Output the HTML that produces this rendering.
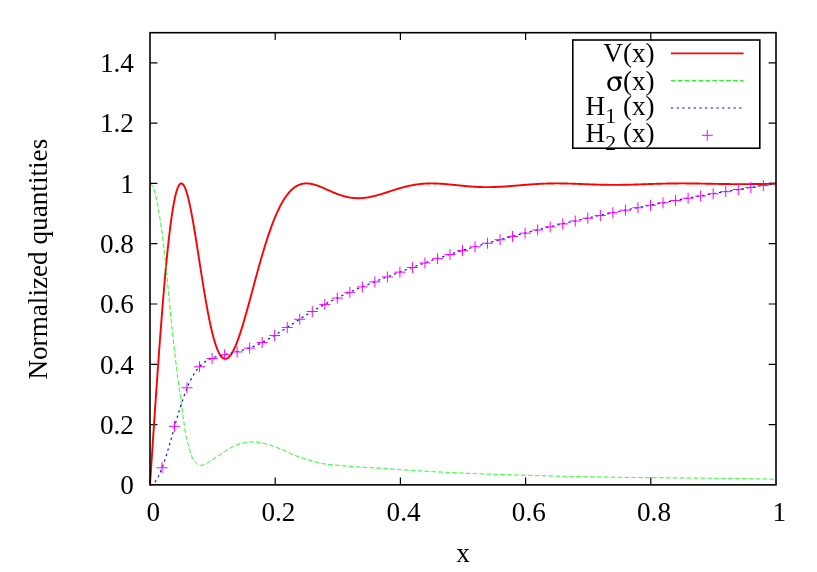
<!DOCTYPE html>
<html><head><meta charset="utf-8"><title>plot</title>
<style>
html,body{margin:0;padding:0;background:#fff;}
svg{display:block;will-change:transform;}
text{font-family:"Liberation Serif",serif;font-size:27.2px;fill:#000;}
</style></head><body>
<svg width="817" height="572" viewBox="0 0 817 572">
<rect x="0" y="0" width="817" height="572" fill="#fff"/>
<g stroke="#000" stroke-width="1.2" fill="none">
<path d="M150.00 424.56H157.40 M776.00 424.56H768.60"/>
<path d="M150.00 364.28H157.40 M776.00 364.28H768.60"/>
<path d="M150.00 303.99H157.40 M776.00 303.99H768.60"/>
<path d="M150.00 243.70H157.40 M776.00 243.70H768.60"/>
<path d="M150.00 183.42H157.40 M776.00 183.42H768.60"/>
<path d="M150.00 123.13H157.40 M776.00 123.13H768.60"/>
<path d="M150.00 62.84H157.40 M776.00 62.84H768.60"/>
<path d="M275.20 484.85V477.45 M275.20 32.70V40.10"/>
<path d="M400.40 484.85V477.45 M400.40 32.70V40.10"/>
<path d="M525.60 484.85V477.45 M525.60 32.70V40.10"/>
<path d="M650.80 484.85V477.45 M650.80 32.70V40.10"/>
</g>
<path d="M150.00 484.85 L150.52 476.96 L151.04 469.07 L151.56 461.20 L152.09 453.33 L152.61 445.49 L153.13 437.66 L153.65 429.87 L154.17 422.11 L154.69 414.38 L155.22 406.70 L155.74 399.07 L156.26 391.49 L156.78 383.97 L157.30 376.52 L157.82 369.13 L158.35 361.82 L158.87 354.59 L159.39 347.45 L159.91 340.40 L160.43 333.44 L160.96 326.58 L161.48 319.84 L162.00 313.20 L162.52 306.69 L163.04 300.29 L163.56 294.03 L164.09 287.89 L164.61 281.90 L165.13 276.05 L165.65 270.35 L166.17 264.80 L166.69 259.40 L167.22 254.17 L167.74 249.10 L168.26 244.20 L168.78 239.47 L169.30 234.92 L169.82 230.55 L170.34 226.36 L170.87 222.36 L171.39 218.54 L171.91 214.92 L172.43 211.49 L172.95 208.25 L173.47 205.21 L174.00 202.37 L174.52 199.73 L175.04 197.28 L175.56 195.04 L176.08 192.99 L176.60 191.15 L177.13 189.51 L177.65 188.06 L178.17 186.82 L178.69 185.77 L179.21 184.92 L179.74 184.26 L180.26 183.79 L180.78 183.51 L181.30 183.42 L181.82 183.51 L182.34 183.78 L182.87 184.23 L183.39 184.85 L183.91 185.64 L184.43 186.60 L184.95 187.72 L185.47 188.99 L186.00 190.41 L186.52 191.99 L187.04 193.70 L187.56 195.55 L188.08 197.53 L188.60 199.63 L189.12 201.86 L189.65 204.20 L190.17 206.64 L190.69 209.19 L191.21 211.84 L191.73 214.57 L192.25 217.39 L192.78 220.28 L193.30 223.25 L193.82 226.28 L194.34 229.37 L194.86 232.52 L195.38 235.71 L195.91 238.94 L196.43 242.21 L196.95 245.51 L197.47 248.83 L197.99 252.17 L198.51 255.52 L199.04 258.88 L199.56 262.24 L200.08 265.60 L200.60 268.94 L201.12 272.28 L201.65 275.59 L202.17 278.89 L202.69 282.15 L203.21 285.38 L203.73 288.58 L204.25 291.73 L204.78 294.85 L205.30 297.91 L205.82 300.92 L206.34 303.88 L206.86 306.78 L207.38 309.62 L207.91 312.40 L208.43 315.11 L208.95 317.75 L209.47 320.32 L209.99 322.82 L210.51 325.24 L211.03 327.58 L211.56 329.85 L212.08 332.03 L212.60 334.13 L213.12 336.15 L213.64 338.09 L214.17 339.94 L214.69 341.71 L215.21 343.39 L215.73 344.98 L216.25 346.48 L216.77 347.90 L217.30 349.23 L217.82 350.47 L218.34 351.63 L218.86 352.69 L219.38 353.67 L219.90 354.56 L220.43 355.37 L220.95 356.09 L221.47 356.73 L221.99 357.28 L222.51 357.74 L223.03 358.13 L223.56 358.43 L224.08 358.65 L224.60 358.80 L225.12 358.86 L225.64 358.85 L226.16 358.76 L226.69 358.59 L227.21 358.36 L227.73 358.05 L228.25 357.67 L228.77 357.22 L229.29 356.70 L229.81 356.11 L230.34 355.47 L230.86 354.76 L231.38 353.98 L231.90 353.15 L232.42 352.26 L232.94 351.31 L233.47 350.31 L233.99 349.25 L234.51 348.14 L235.03 346.98 L235.55 345.78 L236.07 344.52 L236.60 343.22 L237.12 341.88 L237.64 340.50 L238.16 339.07 L238.68 337.61 L239.21 336.11 L239.73 334.58 L240.25 333.01 L240.77 331.41 L241.29 329.78 L241.81 328.11 L242.34 326.43 L242.86 324.71 L243.38 322.98 L243.90 321.21 L244.42 319.43 L244.94 317.63 L245.47 315.81 L245.99 313.97 L246.51 312.12 L247.03 310.25 L247.55 308.37 L248.07 306.48 L248.59 304.58 L249.12 302.67 L249.64 300.75 L250.16 298.82 L250.68 296.89 L251.20 294.96 L251.73 293.02 L252.25 291.08 L252.77 289.14 L253.29 287.20 L253.81 285.27 L254.33 283.33 L254.86 281.40 L255.38 279.47 L255.90 277.55 L256.42 275.64 L256.94 273.73 L257.46 271.83 L257.99 269.94 L258.51 268.06 L259.03 266.19 L259.55 264.33 L260.07 262.49 L260.59 260.66 L261.12 258.84 L261.64 257.03 L262.16 255.24 L262.68 253.47 L263.20 251.71 L263.72 249.97 L264.25 248.25 L264.77 246.55 L265.29 244.86 L265.81 243.20 L266.33 241.55 L266.85 239.92 L267.38 238.32 L267.90 236.73 L268.42 235.17 L268.94 233.62 L269.46 232.10 L269.98 230.61 L270.50 229.13 L271.03 227.68 L271.55 226.25 L272.07 224.84 L272.59 223.46 L273.11 222.10 L273.63 220.77 L274.16 219.46 L274.68 218.17 L275.20 216.91 L275.72 215.67 L276.24 214.46 L276.76 213.27 L277.29 212.11 L277.81 210.97 L278.33 209.86 L278.85 208.78 L279.37 207.71 L279.89 206.68 L280.42 205.66 L280.94 204.68 L281.46 203.72 L281.98 202.78 L282.50 201.87 L283.02 200.98 L283.55 200.12 L284.07 199.28 L284.59 198.46 L285.11 197.67 L285.63 196.91 L286.16 196.17 L286.68 195.45 L287.20 194.75 L287.72 194.08 L288.24 193.44 L288.76 192.81 L289.28 192.21 L289.81 191.63 L290.33 191.08 L290.85 190.54 L291.37 190.03 L291.89 189.54 L292.41 189.07 L292.94 188.62 L293.46 188.20 L293.98 187.79 L294.50 187.40 L295.02 187.04 L295.55 186.69 L296.07 186.36 L296.59 186.06 L297.11 185.77 L297.63 185.50 L298.15 185.24 L298.68 185.01 L299.20 184.79 L299.72 184.59 L300.24 184.41 L300.76 184.25 L301.28 184.10 L301.81 183.96 L302.33 183.84 L302.85 183.74 L303.37 183.65 L303.89 183.58 L304.41 183.52 L304.94 183.47 L305.46 183.44 L305.98 183.42 L306.50 183.42 L307.02 183.42 L307.54 183.44 L308.06 183.47 L308.59 183.51 L309.11 183.56 L309.63 183.63 L310.15 183.70 L310.67 183.78 L311.19 183.88 L311.72 183.98 L312.24 184.09 L312.76 184.21 L313.28 184.34 L313.80 184.48 L314.33 184.62 L314.85 184.77 L315.37 184.93 L315.89 185.09 L316.41 185.26 L316.93 185.44 L317.46 185.62 L317.98 185.81 L318.50 186.00 L319.02 186.20 L319.54 186.40 L320.06 186.61 L320.59 186.82 L321.11 187.03 L321.63 187.25 L322.15 187.47 L322.67 187.69 L323.19 187.91 L323.72 188.14 L324.24 188.37 L324.76 188.60 L325.28 188.83 L325.80 189.06 L326.32 189.30 L326.85 189.53 L327.37 189.76 L327.89 190.00 L328.41 190.23 L328.93 190.47 L329.45 190.70 L329.98 190.93 L330.50 191.16 L331.02 191.39 L331.54 191.62 L332.06 191.85 L332.58 192.07 L333.11 192.30 L333.63 192.52 L334.15 192.73 L334.67 192.95 L335.19 193.16 L335.71 193.37 L336.24 193.58 L336.76 193.78 L337.28 193.99 L337.80 194.18 L338.32 194.38 L338.84 194.57 L339.37 194.75 L339.89 194.93 L340.41 195.11 L340.93 195.28 L341.45 195.45 L341.97 195.62 L342.50 195.78 L343.02 195.93 L343.54 196.09 L344.06 196.23 L344.58 196.37 L345.10 196.51 L345.62 196.64 L346.15 196.77 L346.67 196.89 L347.19 197.00 L347.71 197.12 L348.23 197.22 L348.75 197.32 L349.28 197.42 L349.80 197.51 L350.32 197.59 L350.84 197.67 L351.36 197.74 L351.88 197.81 L352.41 197.87 L352.93 197.93 L353.45 197.98 L353.97 198.03 L354.49 198.07 L355.01 198.11 L355.54 198.14 L356.06 198.16 L356.58 198.18 L357.10 198.19 L357.62 198.20 L358.14 198.21 L358.67 198.20 L359.19 198.20 L359.71 198.19 L360.23 198.17 L360.75 198.15 L361.27 198.12 L361.80 198.09 L362.32 198.05 L362.84 198.01 L363.36 197.96 L363.88 197.91 L364.41 197.86 L364.93 197.79 L365.45 197.73 L365.97 197.66 L366.49 197.59 L367.01 197.51 L367.54 197.43 L368.06 197.34 L368.58 197.25 L369.10 197.16 L369.62 197.06 L370.14 196.96 L370.67 196.85 L371.19 196.74 L371.71 196.63 L372.23 196.52 L372.75 196.40 L373.27 196.28 L373.80 196.15 L374.32 196.02 L374.84 195.89 L375.36 195.76 L375.88 195.62 L376.40 195.48 L376.93 195.34 L377.45 195.20 L377.97 195.05 L378.49 194.90 L379.01 194.75 L379.53 194.60 L380.06 194.45 L380.58 194.29 L381.10 194.13 L381.62 193.97 L382.14 193.81 L382.66 193.65 L383.19 193.49 L383.71 193.32 L384.23 193.16 L384.75 192.99 L385.27 192.83 L385.79 192.66 L386.31 192.49 L386.84 192.32 L387.36 192.15 L387.88 191.98 L388.40 191.81 L388.92 191.64 L389.44 191.47 L389.97 191.30 L390.49 191.13 L391.01 190.96 L391.53 190.80 L392.05 190.63 L392.58 190.46 L393.10 190.29 L393.62 190.12 L394.14 189.96 L394.66 189.79 L395.18 189.63 L395.71 189.47 L396.23 189.30 L396.75 189.14 L397.27 188.98 L397.79 188.82 L398.31 188.67 L398.84 188.51 L399.36 188.36 L399.88 188.20 L400.40 188.05 L400.92 187.91 L401.44 187.76 L401.97 187.61 L402.49 187.47 L403.01 187.33 L403.53 187.19 L404.05 187.05 L404.57 186.91 L405.10 186.78 L405.62 186.65 L406.14 186.52 L406.66 186.40 L407.18 186.27 L407.70 186.15 L408.23 186.03 L408.75 185.91 L409.27 185.80 L409.79 185.69 L410.31 185.58 L410.83 185.47 L411.36 185.37 L411.88 185.27 L412.40 185.17 L412.92 185.07 L413.44 184.98 L413.96 184.89 L414.49 184.80 L415.01 184.71 L415.53 184.63 L416.05 184.55 L416.57 184.48 L417.09 184.40 L417.62 184.33 L418.14 184.26 L418.66 184.19 L419.18 184.13 L419.70 184.07 L420.22 184.01 L420.75 183.96 L421.27 183.91 L421.79 183.86 L422.31 183.81 L422.83 183.77 L423.35 183.73 L423.88 183.69 L424.40 183.65 L424.92 183.62 L425.44 183.59 L425.96 183.56 L426.48 183.53 L427.00 183.51 L427.53 183.49 L428.05 183.47 L428.57 183.46 L429.09 183.45 L429.61 183.43 L430.13 183.43 L430.66 183.42 L431.18 183.42 L431.70 183.42 L432.22 183.42 L432.74 183.42 L433.26 183.43 L433.79 183.43 L434.31 183.44 L434.83 183.46 L435.35 183.47 L435.87 183.49 L436.40 183.50 L436.92 183.52 L437.44 183.54 L437.96 183.57 L438.48 183.59 L439.00 183.62 L439.53 183.65 L440.05 183.68 L440.57 183.71 L441.09 183.74 L441.61 183.77 L442.13 183.81 L442.66 183.85 L443.18 183.89 L443.70 183.93 L444.22 183.97 L444.74 184.01 L445.26 184.05 L445.79 184.09 L446.31 184.14 L446.83 184.19 L447.35 184.23 L447.87 184.28 L448.39 184.33 L448.92 184.38 L449.44 184.43 L449.96 184.48 L450.48 184.53 L451.00 184.58 L451.52 184.63 L452.05 184.69 L452.57 184.74 L453.09 184.79 L453.61 184.85 L454.13 184.90 L454.65 184.95 L455.18 185.01 L455.70 185.06 L456.22 185.12 L456.74 185.17 L457.26 185.23 L457.78 185.28 L458.31 185.33 L458.83 185.39 L459.35 185.44 L459.87 185.50 L460.39 185.55 L460.91 185.60 L461.44 185.65 L461.96 185.71 L462.48 185.76 L463.00 185.81 L463.52 185.86 L464.04 185.91 L464.57 185.96 L465.09 186.01 L465.61 186.06 L466.13 186.10 L466.65 186.15 L467.17 186.19 L467.70 186.24 L468.22 186.28 L468.74 186.33 L469.26 186.37 L469.78 186.41 L470.30 186.45 L470.83 186.49 L471.35 186.53 L471.87 186.57 L472.39 186.60 L472.91 186.64 L473.43 186.67 L473.96 186.70 L474.48 186.74 L475.00 186.77 L475.52 186.80 L476.04 186.82 L476.56 186.85 L477.09 186.88 L477.61 186.90 L478.13 186.93 L478.65 186.95 L479.17 186.97 L479.69 186.99 L480.22 187.01 L480.74 187.02 L481.26 187.04 L481.78 187.05 L482.30 187.07 L482.82 187.08 L483.35 187.09 L483.87 187.10 L484.39 187.11 L484.91 187.11 L485.43 187.12 L485.95 187.12 L486.48 187.13 L487.00 187.13 L487.52 187.13 L488.04 187.13 L488.56 187.13 L489.08 187.12 L489.60 187.12 L490.13 187.11 L490.65 187.10 L491.17 187.10 L491.69 187.09 L492.21 187.07 L492.74 187.06 L493.26 187.05 L493.78 187.03 L494.30 187.02 L494.82 187.00 L495.34 186.98 L495.87 186.96 L496.39 186.94 L496.91 186.92 L497.43 186.90 L497.95 186.88 L498.47 186.85 L499.00 186.83 L499.52 186.80 L500.04 186.77 L500.56 186.75 L501.08 186.72 L501.60 186.69 L502.12 186.66 L502.65 186.63 L503.17 186.59 L503.69 186.56 L504.21 186.53 L504.73 186.49 L505.25 186.46 L505.78 186.42 L506.30 186.38 L506.82 186.35 L507.34 186.31 L507.86 186.27 L508.38 186.23 L508.91 186.19 L509.43 186.15 L509.95 186.11 L510.47 186.07 L510.99 186.03 L511.51 185.98 L512.04 185.94 L512.56 185.90 L513.08 185.86 L513.60 185.81 L514.12 185.77 L514.64 185.73 L515.17 185.68 L515.69 185.64 L516.21 185.59 L516.73 185.55 L517.25 185.51 L517.78 185.46 L518.30 185.42 L518.82 185.37 L519.34 185.33 L519.86 185.28 L520.38 185.24 L520.90 185.20 L521.43 185.15 L521.95 185.11 L522.47 185.06 L522.99 185.02 L523.51 184.98 L524.04 184.93 L524.56 184.89 L525.08 184.85 L525.60 184.81 L526.12 184.76 L526.64 184.72 L527.16 184.68 L527.69 184.64 L528.21 184.60 L528.73 184.56 L529.25 184.52 L529.77 184.48 L530.30 184.44 L530.82 184.40 L531.34 184.37 L531.86 184.33 L532.38 184.29 L532.90 184.26 L533.42 184.22 L533.95 184.19 L534.47 184.15 L534.99 184.12 L535.51 184.09 L536.03 184.06 L536.56 184.03 L537.08 183.99 L537.60 183.96 L538.12 183.94 L538.64 183.91 L539.16 183.88 L539.69 183.85 L540.21 183.83 L540.73 183.80 L541.25 183.78 L541.77 183.75 L542.29 183.73 L542.82 183.71 L543.34 183.69 L543.86 183.67 L544.38 183.65 L544.90 183.63 L545.42 183.61 L545.95 183.59 L546.47 183.58 L546.99 183.56 L547.51 183.54 L548.03 183.53 L548.55 183.52 L549.08 183.50 L549.60 183.49 L550.12 183.48 L550.64 183.47 L551.16 183.46 L551.68 183.46 L552.21 183.45 L552.73 183.44 L553.25 183.44 L553.77 183.43 L554.29 183.43 L554.81 183.42 L555.34 183.42 L555.86 183.42 L556.38 183.42 L556.90 183.42 L557.42 183.42 L557.94 183.42 L558.47 183.42 L558.99 183.42 L559.51 183.43 L560.03 183.43 L560.55 183.43 L561.07 183.44 L561.60 183.45 L562.12 183.45 L562.64 183.46 L563.16 183.47 L563.68 183.48 L564.20 183.49 L564.73 183.50 L565.25 183.51 L565.77 183.52 L566.29 183.53 L566.81 183.54 L567.33 183.55 L567.86 183.57 L568.38 183.58 L568.90 183.59 L569.42 183.61 L569.94 183.62 L570.46 183.64 L570.99 183.65 L571.51 183.67 L572.03 183.69 L572.55 183.70 L573.07 183.72 L573.59 183.74 L574.12 183.76 L574.64 183.77 L575.16 183.79 L575.68 183.81 L576.20 183.83 L576.72 183.85 L577.25 183.87 L577.77 183.89 L578.29 183.91 L578.81 183.93 L579.33 183.95 L579.85 183.97 L580.38 183.99 L580.90 184.01 L581.42 184.03 L581.94 184.05 L582.46 184.07 L582.98 184.09 L583.50 184.11 L584.03 184.13 L584.55 184.15 L585.07 184.17 L585.59 184.19 L586.11 184.21 L586.63 184.23 L587.16 184.25 L587.68 184.27 L588.20 184.29 L588.72 184.31 L589.24 184.33 L589.76 184.35 L590.29 184.37 L590.81 184.39 L591.33 184.41 L591.85 184.43 L592.37 184.45 L592.89 184.46 L593.42 184.48 L593.94 184.50 L594.46 184.52 L594.98 184.53 L595.50 184.55 L596.03 184.57 L596.55 184.58 L597.07 184.60 L597.59 184.61 L598.11 184.63 L598.63 184.64 L599.15 184.66 L599.68 184.67 L600.20 184.68 L600.72 184.70 L601.24 184.71 L601.76 184.72 L602.29 184.73 L602.81 184.74 L603.33 184.75 L603.85 184.76 L604.37 184.77 L604.89 184.78 L605.41 184.79 L605.94 184.80 L606.46 184.81 L606.98 184.81 L607.50 184.82 L608.02 184.83 L608.55 184.83 L609.07 184.84 L609.59 184.84 L610.11 184.85 L610.63 184.85 L611.15 184.86 L611.67 184.86 L612.20 184.86 L612.72 184.86 L613.24 184.86 L613.76 184.87 L614.28 184.87 L614.81 184.87 L615.33 184.86 L615.85 184.86 L616.37 184.86 L616.89 184.86 L617.41 184.86 L617.94 184.85 L618.46 184.85 L618.98 184.85 L619.50 184.84 L620.02 184.84 L620.54 184.83 L621.07 184.83 L621.59 184.82 L622.11 184.81 L622.63 184.81 L623.15 184.80 L623.67 184.79 L624.20 184.78 L624.72 184.77 L625.24 184.76 L625.76 184.75 L626.28 184.74 L626.80 184.73 L627.33 184.72 L627.85 184.71 L628.37 184.70 L628.89 184.69 L629.41 184.67 L629.93 184.66 L630.46 184.65 L630.98 184.64 L631.50 184.62 L632.02 184.61 L632.54 184.59 L633.06 184.58 L633.59 184.57 L634.11 184.55 L634.63 184.54 L635.15 184.52 L635.67 184.50 L636.19 184.49 L636.72 184.47 L637.24 184.46 L637.76 184.44 L638.28 184.42 L638.80 184.41 L639.32 184.39 L639.85 184.37 L640.37 184.36 L640.89 184.34 L641.41 184.32 L641.93 184.30 L642.45 184.29 L642.98 184.27 L643.50 184.25 L644.02 184.23 L644.54 184.22 L645.06 184.20 L645.58 184.18 L646.11 184.16 L646.63 184.14 L647.15 184.13 L647.67 184.11 L648.19 184.09 L648.71 184.07 L649.24 184.06 L649.76 184.04 L650.28 184.02 L650.80 184.00 L651.32 183.99 L651.84 183.97 L652.37 183.95 L652.89 183.94 L653.41 183.92 L653.93 183.90 L654.45 183.89 L654.97 183.87 L655.50 183.85 L656.02 183.84 L656.54 183.82 L657.06 183.81 L657.58 183.79 L658.10 183.78 L658.62 183.76 L659.15 183.75 L659.67 183.73 L660.19 183.72 L660.71 183.71 L661.23 183.69 L661.75 183.68 L662.28 183.67 L662.80 183.65 L663.32 183.64 L663.84 183.63 L664.36 183.62 L664.88 183.61 L665.41 183.60 L665.93 183.58 L666.45 183.57 L666.97 183.56 L667.49 183.55 L668.01 183.54 L668.54 183.53 L669.06 183.53 L669.58 183.52 L670.10 183.51 L670.62 183.50 L671.14 183.49 L671.67 183.49 L672.19 183.48 L672.71 183.47 L673.23 183.47 L673.75 183.46 L674.27 183.46 L674.80 183.45 L675.32 183.45 L675.84 183.44 L676.36 183.44 L676.88 183.43 L677.40 183.43 L677.93 183.43 L678.45 183.43 L678.97 183.42 L679.49 183.42 L680.01 183.42 L680.53 183.42 L681.06 183.42 L681.58 183.42 L682.10 183.42 L682.62 183.42 L683.14 183.42 L683.67 183.42 L684.19 183.42 L684.71 183.42 L685.23 183.42 L685.75 183.42 L686.27 183.43 L686.80 183.43 L687.32 183.43 L687.84 183.44 L688.36 183.44 L688.88 183.44 L689.40 183.45 L689.93 183.45 L690.45 183.46 L690.97 183.46 L691.49 183.47 L692.01 183.47 L692.53 183.48 L693.06 183.48 L693.58 183.49 L694.10 183.50 L694.62 183.50 L695.14 183.51 L695.66 183.52 L696.19 183.53 L696.71 183.53 L697.23 183.54 L697.75 183.55 L698.27 183.56 L698.79 183.56 L699.32 183.57 L699.84 183.58 L700.36 183.59 L700.88 183.60 L701.40 183.61 L701.92 183.62 L702.45 183.63 L702.97 183.64 L703.49 183.64 L704.01 183.65 L704.53 183.66 L705.05 183.67 L705.58 183.68 L706.10 183.69 L706.62 183.70 L707.14 183.71 L707.66 183.72 L708.18 183.73 L708.71 183.74 L709.23 183.75 L709.75 183.76 L710.27 183.77 L710.79 183.78 L711.31 183.79 L711.84 183.80 L712.36 183.81 L712.88 183.82 L713.40 183.83 L713.92 183.84 L714.44 183.85 L714.97 183.86 L715.49 183.87 L716.01 183.88 L716.53 183.89 L717.05 183.90 L717.57 183.90 L718.10 183.91 L718.62 183.92 L719.14 183.93 L719.66 183.94 L720.18 183.95 L720.70 183.96 L721.23 183.96 L721.75 183.97 L722.27 183.98 L722.79 183.99 L723.31 184.00 L723.83 184.00 L724.36 184.01 L724.88 184.02 L725.40 184.02 L725.92 184.03 L726.44 184.04 L726.96 184.04 L727.49 184.05 L728.01 184.06 L728.53 184.06 L729.05 184.07 L729.57 184.07 L730.09 184.08 L730.62 184.08 L731.14 184.09 L731.66 184.09 L732.18 184.09 L732.70 184.10 L733.22 184.10 L733.75 184.10 L734.27 184.11 L734.79 184.11 L735.31 184.11 L735.83 184.12 L736.35 184.12 L736.88 184.12 L737.40 184.12 L737.92 184.12 L738.44 184.12 L738.96 184.12 L739.48 184.13 L740.01 184.13 L740.53 184.13 L741.05 184.13 L741.57 184.13 L742.09 184.13 L742.61 184.12 L743.13 184.12 L743.66 184.12 L744.18 184.12 L744.70 184.12 L745.22 184.12 L745.74 184.11 L746.26 184.11 L746.79 184.11 L747.31 184.11 L747.83 184.10 L748.35 184.10 L748.87 184.10 L749.39 184.09 L749.92 184.09 L750.44 184.09 L750.96 184.08 L751.48 184.08 L752.00 184.07 L752.52 184.07 L753.05 184.06 L753.57 184.06 L754.09 184.05 L754.61 184.04 L755.13 184.04 L755.65 184.03 L756.18 184.03 L756.70 184.02 L757.22 184.01 L757.74 184.01 L758.26 184.00 L758.78 183.99 L759.31 183.99 L759.83 183.98 L760.35 183.97 L760.87 183.96 L761.39 183.96 L761.92 183.95 L762.44 183.94 L762.96 183.93 L763.48 183.92 L764.00 183.92 L764.52 183.91 L765.05 183.90 L765.57 183.89 L766.09 183.88 L766.61 183.87 L767.13 183.87 L767.65 183.86 L768.18 183.85 L768.70 183.84 L769.22 183.83 L769.74 183.82 L770.26 183.81 L770.78 183.81 L771.31 183.80 L771.83 183.79 L772.35 183.78 L772.87 183.77 L773.39 183.76 L773.91 183.75 L774.44 183.74 L774.96 183.74 L775.48 183.73 L776.00 183.72" fill="none" stroke="#ff0000" stroke-width="1.9" stroke-linejoin="round" stroke-linecap="butt"/>
<path d="M150.00 183.42 L150.50 183.77 L150.96 184.16 L151.38 184.56 L151.77 184.99 L152.13 185.44 L152.46 185.91 L152.76 186.40 L153.04 186.90 L153.29 187.42 L153.53 187.95 L153.74 188.50 L153.94 189.05 L154.12 189.61 L154.29 190.18 L154.45 190.75 L154.60 191.33 L154.75 191.90 L154.89 192.48 L155.03 193.06 L155.17 193.64 L155.30 194.22 L155.44 194.79 L155.57 195.37 L155.70 195.94 L155.83 196.52 L155.96 197.09 L156.09 197.66 L156.21 198.24 L156.33 198.81 L156.46 199.38 L156.58 199.95 L156.70 200.52 L156.82 201.09 L156.93 201.66 L157.05 202.23 L157.16 202.80 L157.28 203.37 L157.39 203.94 L157.50 204.51 L157.61 205.08 L157.72 205.65 L157.83 206.22 L157.94 206.79 L158.04 207.35 L158.15 207.92 L158.25 208.49 L158.36 209.06 L158.46 209.64 L158.56 210.21 L158.66 210.78 L158.76 211.35 L158.86 211.92 L158.96 212.49 L159.06 213.07 L159.16 213.64 L159.26 214.21 L159.35 214.79 L159.45 215.36 L159.55 215.94 L159.64 216.51 L159.73 217.08 L159.83 217.66 L159.92 218.24 L160.01 218.81 L160.10 219.39 L160.20 219.96 L160.29 220.54 L160.38 221.12 L160.46 221.69 L160.55 222.27 L160.64 222.85 L160.73 223.43 L160.82 224.00 L160.90 224.58 L160.99 225.16 L161.07 225.74 L161.16 226.32 L161.24 226.90 L161.32 227.48 L161.41 228.06 L161.49 228.63 L161.57 229.21 L161.65 229.79 L161.73 230.37 L161.81 230.95 L161.89 231.53 L161.97 232.11 L162.05 232.69 L162.13 233.27 L162.21 233.85 L162.28 234.43 L162.36 235.02 L162.44 235.60 L162.51 236.18 L162.59 236.76 L162.66 237.34 L162.74 237.92 L162.81 238.50 L162.89 239.08 L162.96 239.66 L163.03 240.24 L163.11 240.82 L163.18 241.40 L163.25 241.98 L163.32 242.56 L163.39 243.14 L163.46 243.73 L163.53 244.31 L163.60 244.89 L163.67 245.47 L163.74 246.05 L163.81 246.63 L163.88 247.21 L163.94 247.79 L164.01 248.37 L164.08 248.95 L164.15 249.53 L164.21 250.11 L164.28 250.69 L164.34 251.27 L164.41 251.85 L164.48 252.44 L164.54 253.02 L164.60 253.60 L164.67 254.18 L164.73 254.76 L164.80 255.34 L164.86 255.92 L164.92 256.50 L164.99 257.08 L165.05 257.66 L165.11 258.24 L165.17 258.82 L165.24 259.40 L165.30 259.98 L165.36 260.56 L165.42 261.14 L165.48 261.73 L165.54 262.31 L165.60 262.89 L165.66 263.47 L165.72 264.05 L165.78 264.63 L165.84 265.21 L165.90 265.79 L165.96 266.37 L166.02 266.95 L166.08 267.53 L166.14 268.11 L166.19 268.69 L166.25 269.27 L166.31 269.85 L166.37 270.44 L166.43 271.02 L166.48 271.60 L166.54 272.18 L166.60 272.76 L166.66 273.34 L166.71 273.92 L166.77 274.50 L166.83 275.08 L166.88 275.66 L166.94 276.24 L167.00 276.82 L167.05 277.40 L167.11 277.98 L167.17 278.57 L167.22 279.15 L167.28 279.73 L167.34 280.31 L167.39 280.89 L167.45 281.47 L167.50 282.05 L167.56 282.63 L167.61 283.21 L167.67 283.79 L167.73 284.37 L167.78 284.95 L167.84 285.54 L167.89 286.12 L167.95 286.70 L168.00 287.28 L168.06 287.86 L168.12 288.44 L168.17 289.02 L168.23 289.60 L168.28 290.18 L168.34 290.76 L168.39 291.34 L168.45 291.93 L168.50 292.51 L168.56 293.09 L168.62 293.67 L168.67 294.25 L168.73 294.83 L168.78 295.41 L168.84 295.99 L168.89 296.57 L168.95 297.15 L169.01 297.74 L169.06 298.32 L169.12 298.90 L169.17 299.48 L169.23 300.06 L169.29 300.64 L169.34 301.22 L169.40 301.80 L169.45 302.38 L169.51 302.96 L169.57 303.55 L169.62 304.13 L169.68 304.71 L169.74 305.29 L169.79 305.87 L169.85 306.45 L169.91 307.03 L169.96 307.61 L170.02 308.19 L170.08 308.78 L170.13 309.36 L170.19 309.94 L170.25 310.52 L170.31 311.10 L170.36 311.68 L170.42 312.26 L170.48 312.84 L170.53 313.42 L170.59 314.01 L170.65 314.59 L170.71 315.17 L170.77 315.75 L170.82 316.33 L170.88 316.91 L170.94 317.49 L171.00 318.07 L171.06 318.65 L171.11 319.24 L171.17 319.82 L171.23 320.40 L171.29 320.98 L171.35 321.56 L171.41 322.14 L171.47 322.72 L171.53 323.30 L171.59 323.88 L171.64 324.46 L171.70 325.05 L171.76 325.63 L171.82 326.21 L171.88 326.79 L171.94 327.37 L172.00 327.95 L172.06 328.53 L172.12 329.11 L172.18 329.69 L172.24 330.27 L172.31 330.85 L172.37 331.44 L172.43 332.02 L172.49 332.60 L172.55 333.18 L172.61 333.76 L172.67 334.34 L172.73 334.92 L172.80 335.50 L172.86 336.08 L172.92 336.66 L172.98 337.24 L173.04 337.82 L173.11 338.40 L173.17 338.99 L173.23 339.57 L173.30 340.15 L173.36 340.73 L173.42 341.31 L173.49 341.89 L173.55 342.47 L173.61 343.05 L173.68 343.63 L173.74 344.21 L173.81 344.79 L173.87 345.37 L173.94 345.95 L174.00 346.53 L174.06 347.11 L174.13 347.69 L174.20 348.27 L174.26 348.85 L174.33 349.43 L174.39 350.01 L174.46 350.59 L174.53 351.17 L174.59 351.75 L174.66 352.34 L174.73 352.92 L174.79 353.50 L174.86 354.08 L174.93 354.66 L174.99 355.24 L175.06 355.82 L175.13 356.40 L175.20 356.98 L175.27 357.56 L175.34 358.14 L175.40 358.72 L175.47 359.30 L175.54 359.88 L175.61 360.46 L175.68 361.03 L175.75 361.61 L175.82 362.19 L175.89 362.77 L175.96 363.35 L176.03 363.93 L176.10 364.51 L176.17 365.09 L176.25 365.67 L176.32 366.25 L176.39 366.83 L176.46 367.41 L176.53 367.99 L176.60 368.57 L176.68 369.15 L176.75 369.73 L176.82 370.31 L176.90 370.89 L176.97 371.47 L177.04 372.05 L177.12 372.63 L177.19 373.20 L177.26 373.78 L177.34 374.36 L177.41 374.94 L177.49 375.52 L177.56 376.10 L177.64 376.68 L177.71 377.26 L177.79 377.84 L177.86 378.42 L177.94 378.99 L178.01 379.57 L178.09 380.15 L178.17 380.73 L178.24 381.31 L178.32 381.89 L178.40 382.47 L178.48 383.05 L178.55 383.63 L178.63 384.20 L178.71 384.78 L178.79 385.36 L178.86 385.94 L178.94 386.52 L179.02 387.10 L179.10 387.67 L179.18 388.25 L179.26 388.83 L179.34 389.41 L179.42 389.99 L179.50 390.57 L179.58 391.14 L179.66 391.72 L179.74 392.30 L179.82 392.88 L179.90 393.46 L179.98 394.04 L180.06 394.61 L180.14 395.19 L180.22 395.77 L180.30 396.35 L180.38 396.93 L180.46 397.51 L180.54 398.08 L180.63 398.66 L180.71 399.24 L180.79 399.82 L180.87 400.40 L180.95 400.97 L181.03 401.55 L181.11 402.13 L181.19 402.71 L181.27 403.29 L181.36 403.87 L181.44 404.44 L181.52 405.02 L181.60 405.60 L181.68 406.18 L181.76 406.76 L181.84 407.33 L181.92 407.91 L182.00 408.49 L182.08 409.07 L182.16 409.65 L182.25 410.23 L182.33 410.81 L182.41 411.38 L182.49 411.96 L182.57 412.54 L182.65 413.12 L182.73 413.70 L182.81 414.28 L182.89 414.85 L182.97 415.43 L183.04 416.01 L183.12 416.59 L183.20 417.17 L183.28 417.75 L183.36 418.33 L183.44 418.91 L183.52 419.49 L183.59 420.06 L183.67 420.64 L183.75 421.22 L183.83 421.80 L183.91 422.38 L183.98 422.96 L184.06 423.54 L184.14 424.12 L184.22 424.70 L184.30 425.28 L184.38 425.85 L184.46 426.43 L184.55 427.01 L184.63 427.59 L184.71 428.17 L184.80 428.74 L184.89 429.32 L184.98 429.90 L185.07 430.48 L185.16 431.05 L185.26 431.63 L185.35 432.20 L185.45 432.78 L185.56 433.35 L185.66 433.93 L185.77 434.50 L185.87 435.08 L185.99 435.65 L186.10 436.22 L186.22 436.79 L186.34 437.37 L186.46 437.94 L186.59 438.51 L186.72 439.08 L186.86 439.65 L186.99 440.22 L187.13 440.78 L187.28 441.35 L187.42 441.92 L187.57 442.48 L187.72 443.05 L187.87 443.62 L188.03 444.18 L188.19 444.74 L188.34 445.31 L188.50 445.87 L188.66 446.43 L188.83 446.99 L188.99 447.55 L189.15 448.11 L189.32 448.67 L189.48 449.23 L189.65 449.79 L189.82 450.35 L189.98 450.91 L190.15 451.46 L190.31 452.02 L190.48 452.57 L190.64 453.13 L190.81 453.68 L190.99 454.23 L191.17 454.78 L191.35 455.33 L191.55 455.88 L191.75 456.42 L191.97 456.96 L192.20 457.50 L192.45 458.03 L192.71 458.56 L192.99 459.08 L193.29 459.60 L193.61 460.12 L193.96 460.63 L194.32 461.13 L194.71 461.63 L195.12 462.11 L195.55 462.57 L196.00 463.00 L196.46 463.41 L196.94 463.80 L197.43 464.14 L197.93 464.45 L198.45 464.72 L198.97 464.94 L199.50 465.11 L200.03 465.23 L200.57 465.29 L201.12 465.30 L201.67 465.25 L202.22 465.16 L202.77 465.02 L203.32 464.85 L203.87 464.64 L204.42 464.40 L204.98 464.13 L205.53 463.85 L206.07 463.54 L206.62 463.22 L207.16 462.90 L207.70 462.57 L208.23 462.24 L208.76 461.91 L209.28 461.58 L209.79 461.26 L210.31 460.94 L210.81 460.62 L211.32 460.31 L211.82 460.00 L212.31 459.69 L212.81 459.38 L213.30 459.07 L213.78 458.76 L214.27 458.45 L214.75 458.14 L215.23 457.83 L215.71 457.52 L216.19 457.21 L216.66 456.90 L217.14 456.59 L217.61 456.27 L218.09 455.96 L218.56 455.64 L219.04 455.32 L219.51 454.99 L219.99 454.66 L220.46 454.34 L220.94 454.01 L221.42 453.67 L221.89 453.34 L222.37 453.01 L222.85 452.68 L223.34 452.35 L223.82 452.02 L224.31 451.69 L224.79 451.36 L225.28 451.04 L225.77 450.71 L226.26 450.39 L226.76 450.08 L227.25 449.76 L227.75 449.45 L228.26 449.14 L228.76 448.84 L229.27 448.54 L229.78 448.25 L230.29 447.96 L230.80 447.68 L231.32 447.41 L231.85 447.14 L232.37 446.87 L232.90 446.62 L233.43 446.37 L233.96 446.12 L234.50 445.89 L235.04 445.65 L235.58 445.43 L236.12 445.21 L236.67 445.00 L237.22 444.79 L237.77 444.59 L238.33 444.40 L238.88 444.22 L239.44 444.04 L240.00 443.86 L240.56 443.70 L241.13 443.54 L241.69 443.39 L242.26 443.25 L242.83 443.11 L243.40 442.98 L243.97 442.86 L244.55 442.74 L245.12 442.63 L245.70 442.53 L246.28 442.44 L246.86 442.35 L247.44 442.27 L248.02 442.20 L248.60 442.14 L249.18 442.08 L249.76 442.04 L250.35 442.00 L250.93 441.97 L251.51 441.94 L252.10 441.93 L252.68 441.93 L253.26 441.93 L253.85 441.94 L254.43 441.96 L255.01 441.99 L255.59 442.03 L256.18 442.07 L256.76 442.12 L257.34 442.18 L257.92 442.25 L258.50 442.33 L259.08 442.41 L259.66 442.50 L260.23 442.59 L260.81 442.69 L261.39 442.80 L261.96 442.91 L262.54 443.03 L263.11 443.15 L263.68 443.28 L264.26 443.42 L264.83 443.56 L265.40 443.71 L265.97 443.86 L266.54 444.01 L267.10 444.17 L267.67 444.33 L268.24 444.50 L268.80 444.67 L269.36 444.85 L269.92 445.02 L270.48 445.20 L271.04 445.39 L271.60 445.58 L272.16 445.77 L272.71 445.96 L273.26 446.15 L273.82 446.35 L274.37 446.55 L274.92 446.75 L275.46 446.96 L276.01 447.16 L276.56 447.37 L277.10 447.58 L277.65 447.80 L278.19 448.01 L278.73 448.23 L279.27 448.45 L279.81 448.67 L280.35 448.89 L280.89 449.12 L281.42 449.35 L281.96 449.57 L282.49 449.81 L283.03 450.04 L283.56 450.27 L284.10 450.51 L284.63 450.75 L285.16 450.99 L285.70 451.23 L286.23 451.47 L286.76 451.71 L287.29 451.95 L287.82 452.20 L288.35 452.44 L288.88 452.68 L289.42 452.93 L289.95 453.17 L290.48 453.41 L291.01 453.65 L291.55 453.89 L292.08 454.12 L292.62 454.36 L293.15 454.59 L293.69 454.82 L294.23 455.05 L294.77 455.27 L295.31 455.49 L295.85 455.71 L296.39 455.92 L296.93 456.13 L297.48 456.33 L298.03 456.53 L298.58 456.73 L299.13 456.92 L299.68 457.11 L300.23 457.30 L300.79 457.48 L301.34 457.66 L301.90 457.84 L302.45 458.02 L303.01 458.19 L303.57 458.37 L304.13 458.54 L304.68 458.71 L305.24 458.88 L305.80 459.05 L306.36 459.21 L306.92 459.38 L307.49 459.55 L308.05 459.72 L308.61 459.88 L309.17 460.05 L309.73 460.22 L310.29 460.39 L310.85 460.56 L311.41 460.73 L311.97 460.90 L312.53 461.07 L313.09 461.24 L313.65 461.41 L314.21 461.57 L314.77 461.74 L315.33 461.90 L315.90 462.06 L316.46 462.21 L317.02 462.36 L317.59 462.51 L318.15 462.66 L318.72 462.80 L319.28 462.93 L319.85 463.06 L320.42 463.19 L320.99 463.31 L321.56 463.42 L322.14 463.53 L322.71 463.63 L323.28 463.73 L323.86 463.82 L324.44 463.90 L325.01 463.99 L325.59 464.06 L326.17 464.14 L326.75 464.21 L327.33 464.28 L327.91 464.34 L328.49 464.40 L329.08 464.46 L329.66 464.52 L330.24 464.58 L330.82 464.63 L331.41 464.69 L331.99 464.74 L332.57 464.80 L333.15 464.85 L333.74 464.91 L334.32 464.96 L334.90 465.02 L335.48 465.08 L336.06 465.13 L336.65 465.19 L337.23 465.25 L337.81 465.31 L338.39 465.37 L338.97 465.43 L339.55 465.48 L340.13 465.54 L340.71 465.60 L341.29 465.66 L341.87 465.72 L342.46 465.77 L343.04 465.83 L343.62 465.89 L344.20 465.94 L344.78 466.00 L345.36 466.05 L345.94 466.11 L346.52 466.16 L347.10 466.21 L347.68 466.26 L348.27 466.31 L348.85 466.36 L349.43 466.40 L350.01 466.45 L350.59 466.49 L351.18 466.53 L351.76 466.57 L352.34 466.61 L352.92 466.65 L353.50 466.69 L354.09 466.73 L354.67 466.77 L355.25 466.80 L355.84 466.84 L356.42 466.87 L357.00 466.91 L357.58 466.94 L358.17 466.97 L358.75 467.00 L359.33 467.03 L359.92 467.07 L360.50 467.10 L361.08 467.13 L361.67 467.16 L362.25 467.19 L362.83 467.22 L363.42 467.25 L364.00 467.28 L364.58 467.31 L365.17 467.34 L365.75 467.37 L366.33 467.40 L366.92 467.43 L367.50 467.46 L368.08 467.49 L368.67 467.52 L369.25 467.55 L369.83 467.58 L370.42 467.61 L371.00 467.64 L371.58 467.68 L372.17 467.71 L372.75 467.74 L373.33 467.78 L373.92 467.81 L374.50 467.85 L375.08 467.88 L375.66 467.92 L376.25 467.96 L376.83 467.99 L377.41 468.03 L377.99 468.07 L378.58 468.11 L379.16 468.14 L379.74 468.18 L380.33 468.22 L380.91 468.26 L381.49 468.30 L382.07 468.34 L382.66 468.38 L383.24 468.42 L383.82 468.46 L384.40 468.50 L384.99 468.54 L385.57 468.58 L386.15 468.62 L386.73 468.66 L387.32 468.70 L387.90 468.74 L388.48 468.79 L389.06 468.83 L389.65 468.87 L390.23 468.91 L390.81 468.95 L391.39 468.99 L391.98 469.03 L392.56 469.08 L393.14 469.12 L393.72 469.16 L394.30 469.20 L394.89 469.24 L395.47 469.28 L396.05 469.32 L396.63 469.36 L397.22 469.41 L397.80 469.45 L398.38 469.49 L398.96 469.53 L399.55 469.57 L400.13 469.61 L400.71 469.65 L401.29 469.69 L401.88 469.73 L402.46 469.77 L403.04 469.81 L403.62 469.85 L404.21 469.89 L404.79 469.92 L405.37 469.96 L405.95 470.00 L406.54 470.04 L407.12 470.08 L407.70 470.12 L408.29 470.15 L408.87 470.19 L409.45 470.23 L410.03 470.27 L410.62 470.30 L411.20 470.34 L411.78 470.38 L412.36 470.41 L412.95 470.45 L413.53 470.49 L414.11 470.52 L414.70 470.56 L415.28 470.60 L415.86 470.63 L416.44 470.67 L417.03 470.70 L417.61 470.74 L418.19 470.77 L418.78 470.81 L419.36 470.84 L419.94 470.88 L420.52 470.91 L421.11 470.95 L421.69 470.98 L422.27 471.02 L422.86 471.05 L423.44 471.09 L424.02 471.12 L424.60 471.16 L425.19 471.19 L425.77 471.22 L426.35 471.26 L426.94 471.29 L427.52 471.32 L428.10 471.36 L428.69 471.39 L429.27 471.42 L429.85 471.46 L430.43 471.49 L431.02 471.52 L431.60 471.55 L432.18 471.59 L432.77 471.62 L433.35 471.65 L433.93 471.68 L434.52 471.71 L435.10 471.75 L435.68 471.78 L436.26 471.81 L436.85 471.84 L437.43 471.87 L438.01 471.90 L438.60 471.93 L439.18 471.96 L439.76 471.99 L440.35 472.02 L440.93 472.05 L441.51 472.08 L442.10 472.11 L442.68 472.14 L443.26 472.17 L443.85 472.20 L444.43 472.23 L445.01 472.26 L445.60 472.29 L446.18 472.32 L446.76 472.35 L447.34 472.38 L447.93 472.40 L448.51 472.43 L449.09 472.46 L449.68 472.49 L450.26 472.52 L450.84 472.54 L451.43 472.57 L452.01 472.60 L452.59 472.62 L453.18 472.65 L453.76 472.68 L454.34 472.70 L454.93 472.73 L455.51 472.76 L456.09 472.78 L456.68 472.81 L457.26 472.84 L457.84 472.86 L458.43 472.89 L459.01 472.91 L459.59 472.94 L460.18 472.96 L460.76 472.99 L461.34 473.01 L461.93 473.04 L462.51 473.06 L463.09 473.09 L463.68 473.11 L464.26 473.14 L464.84 473.16 L465.43 473.19 L466.01 473.21 L466.59 473.24 L467.18 473.26 L467.76 473.28 L468.35 473.31 L468.93 473.33 L469.51 473.35 L470.10 473.38 L470.68 473.40 L471.26 473.42 L471.85 473.45 L472.43 473.47 L473.01 473.49 L473.60 473.52 L474.18 473.54 L474.76 473.56 L475.35 473.58 L475.93 473.61 L476.51 473.63 L477.10 473.65 L477.68 473.67 L478.26 473.70 L478.85 473.72 L479.43 473.74 L480.01 473.76 L480.60 473.78 L481.18 473.80 L481.77 473.83 L482.35 473.85 L482.93 473.87 L483.52 473.89 L484.10 473.91 L484.68 473.93 L485.27 473.95 L485.85 473.98 L486.43 474.00 L487.02 474.02 L487.60 474.04 L488.18 474.06 L488.77 474.08 L489.35 474.10 L489.93 474.12 L490.52 474.14 L491.10 474.16 L491.69 474.18 L492.27 474.20 L492.85 474.22 L493.44 474.24 L494.02 474.26 L494.60 474.28 L495.19 474.30 L495.77 474.32 L496.35 474.34 L496.94 474.36 L497.52 474.38 L498.10 474.40 L498.69 474.42 L499.27 474.44 L499.86 474.46 L500.44 474.48 L501.02 474.50 L501.61 474.52 L502.19 474.54 L502.77 474.56 L503.36 474.58 L503.94 474.59 L504.52 474.61 L505.11 474.63 L505.69 474.65 L506.28 474.67 L506.86 474.69 L507.44 474.71 L508.03 474.73 L508.61 474.74 L509.19 474.76 L509.78 474.78 L510.36 474.80 L510.94 474.82 L511.53 474.84 L512.11 474.86 L512.69 474.87 L513.28 474.89 L513.86 474.91 L514.45 474.93 L515.03 474.95 L515.61 474.96 L516.20 474.98 L516.78 475.00 L517.36 475.02 L517.95 475.04 L518.53 475.05 L519.12 475.07 L519.70 475.09 L520.28 475.11 L520.87 475.12 L521.45 475.14 L522.03 475.16 L522.62 475.18 L523.20 475.19 L523.78 475.21 L524.37 475.23 L524.95 475.25 L525.54 475.26 L526.12 475.28 L526.70 475.30 L527.29 475.31 L527.87 475.33 L528.45 475.35 L529.04 475.37 L529.62 475.38 L530.20 475.40 L530.79 475.42 L531.37 475.43 L531.96 475.45 L532.54 475.47 L533.12 475.48 L533.71 475.50 L534.29 475.52 L534.87 475.53 L535.46 475.55 L536.04 475.57 L536.63 475.58 L537.21 475.60 L537.79 475.62 L538.38 475.63 L538.96 475.65 L539.54 475.66 L540.13 475.68 L540.71 475.70 L541.29 475.71 L541.88 475.73 L542.46 475.75 L543.05 475.76 L543.63 475.78 L544.21 475.79 L544.80 475.81 L545.38 475.82 L545.96 475.84 L546.55 475.86 L547.13 475.87 L547.72 475.89 L548.30 475.90 L548.88 475.92 L549.47 475.93 L550.05 475.95 L550.63 475.96 L551.22 475.98 L551.80 475.99 L552.39 476.01 L552.97 476.02 L553.55 476.04 L554.14 476.05 L554.72 476.07 L555.30 476.08 L555.89 476.10 L556.47 476.11 L557.06 476.13 L557.64 476.14 L558.22 476.16 L558.81 476.17 L559.39 476.19 L559.97 476.20 L560.56 476.21 L561.14 476.23 L561.72 476.24 L562.31 476.26 L562.89 476.27 L563.48 476.28 L564.06 476.30 L564.64 476.31 L565.23 476.33 L565.81 476.34 L566.39 476.35 L566.98 476.37 L567.56 476.38 L568.15 476.39 L568.73 476.41 L569.31 476.42 L569.90 476.43 L570.48 476.45 L571.07 476.46 L571.65 476.47 L572.23 476.49 L572.82 476.50 L573.40 476.51 L573.98 476.52 L574.57 476.54 L575.15 476.55 L575.74 476.56 L576.32 476.57 L576.90 476.59 L577.49 476.60 L578.07 476.61 L578.65 476.62 L579.24 476.63 L579.82 476.65 L580.41 476.66 L580.99 476.67 L581.57 476.68 L582.16 476.69 L582.74 476.70 L583.32 476.72 L583.91 476.73 L584.49 476.74 L585.08 476.75 L585.66 476.76 L586.24 476.77 L586.83 476.78 L587.41 476.79 L587.99 476.80 L588.58 476.82 L589.16 476.83 L589.75 476.84 L590.33 476.85 L590.91 476.86 L591.50 476.87 L592.08 476.88 L592.67 476.89 L593.25 476.90 L593.83 476.91 L594.42 476.92 L595.00 476.93 L595.58 476.94 L596.17 476.95 L596.75 476.96 L597.34 476.97 L597.92 476.98 L598.50 476.99 L599.09 477.00 L599.67 477.01 L600.26 477.02 L600.84 477.03 L601.42 477.03 L602.01 477.04 L602.59 477.05 L603.17 477.06 L603.76 477.07 L604.34 477.08 L604.93 477.09 L605.51 477.10 L606.09 477.11 L606.68 477.12 L607.26 477.12 L607.85 477.13 L608.43 477.14 L609.01 477.15 L609.60 477.16 L610.18 477.17 L610.76 477.17 L611.35 477.18 L611.93 477.19 L612.52 477.20 L613.10 477.21 L613.68 477.22 L614.27 477.22 L614.85 477.23 L615.44 477.24 L616.02 477.25 L616.60 477.26 L617.19 477.26 L617.77 477.27 L618.35 477.28 L618.94 477.29 L619.52 477.29 L620.11 477.30 L620.69 477.31 L621.27 477.32 L621.86 477.32 L622.44 477.33 L623.03 477.34 L623.61 477.35 L624.19 477.35 L624.78 477.36 L625.36 477.37 L625.95 477.37 L626.53 477.38 L627.11 477.39 L627.70 477.40 L628.28 477.40 L628.86 477.41 L629.45 477.42 L630.03 477.42 L630.62 477.43 L631.20 477.44 L631.78 477.44 L632.37 477.45 L632.95 477.46 L633.54 477.46 L634.12 477.47 L634.70 477.48 L635.29 477.48 L635.87 477.49 L636.45 477.50 L637.04 477.50 L637.62 477.51 L638.21 477.52 L638.79 477.52 L639.37 477.53 L639.96 477.53 L640.54 477.54 L641.13 477.55 L641.71 477.55 L642.29 477.56 L642.88 477.56 L643.46 477.57 L644.05 477.58 L644.63 477.58 L645.21 477.59 L645.80 477.60 L646.38 477.60 L646.97 477.61 L647.55 477.61 L648.13 477.62 L648.72 477.62 L649.30 477.63 L649.88 477.64 L650.47 477.64 L651.05 477.65 L651.64 477.65 L652.22 477.66 L652.80 477.67 L653.39 477.67 L653.97 477.68 L654.56 477.68 L655.14 477.69 L655.72 477.69 L656.31 477.70 L656.89 477.71 L657.48 477.71 L658.06 477.72 L658.64 477.72 L659.23 477.73 L659.81 477.73 L660.39 477.74 L660.98 477.74 L661.56 477.75 L662.15 477.76 L662.73 477.76 L663.31 477.77 L663.90 477.77 L664.48 477.78 L665.07 477.78 L665.65 477.79 L666.23 477.79 L666.82 477.80 L667.40 477.80 L667.99 477.81 L668.57 477.82 L669.15 477.82 L669.74 477.83 L670.32 477.83 L670.91 477.84 L671.49 477.84 L672.07 477.85 L672.66 477.85 L673.24 477.86 L673.82 477.86 L674.41 477.87 L674.99 477.88 L675.58 477.88 L676.16 477.89 L676.74 477.89 L677.33 477.90 L677.91 477.90 L678.50 477.91 L679.08 477.91 L679.66 477.92 L680.25 477.92 L680.83 477.93 L681.42 477.93 L682.00 477.94 L682.58 477.95 L683.17 477.95 L683.75 477.96 L684.34 477.96 L684.92 477.97 L685.50 477.97 L686.09 477.98 L686.67 477.98 L687.25 477.99 L687.84 477.99 L688.42 478.00 L689.01 478.01 L689.59 478.01 L690.17 478.02 L690.76 478.02 L691.34 478.03 L691.93 478.03 L692.51 478.04 L693.09 478.05 L693.68 478.05 L694.26 478.06 L694.85 478.06 L695.43 478.07 L696.01 478.07 L696.60 478.08 L697.18 478.09 L697.76 478.09 L698.35 478.10 L698.93 478.10 L699.52 478.11 L700.10 478.11 L700.68 478.12 L701.27 478.13 L701.85 478.13 L702.44 478.14 L703.02 478.14 L703.60 478.15 L704.19 478.16 L704.77 478.16 L705.36 478.17 L705.94 478.17 L706.52 478.18 L707.11 478.19 L707.69 478.19 L708.27 478.20 L708.86 478.21 L709.44 478.21 L710.03 478.22 L710.61 478.22 L711.19 478.23 L711.78 478.24 L712.36 478.24 L712.95 478.25 L713.53 478.26 L714.11 478.26 L714.70 478.27 L715.28 478.28 L715.87 478.28 L716.45 478.29 L717.03 478.30 L717.62 478.30 L718.20 478.31 L718.78 478.32 L719.37 478.32 L719.95 478.33 L720.54 478.34 L721.12 478.34 L721.70 478.35 L722.29 478.36 L722.87 478.37 L723.46 478.37 L724.04 478.38 L724.62 478.39 L725.21 478.39 L725.79 478.40 L726.38 478.41 L726.96 478.42 L727.54 478.42 L728.13 478.43 L728.71 478.44 L729.29 478.45 L729.88 478.45 L730.46 478.46 L731.05 478.47 L731.63 478.48 L732.21 478.48 L732.80 478.49 L733.38 478.50 L733.97 478.51 L734.55 478.52 L735.13 478.52 L735.72 478.53 L736.30 478.54 L736.88 478.55 L737.47 478.56 L738.05 478.57 L738.64 478.57 L739.22 478.58 L739.80 478.59 L740.39 478.60 L740.97 478.61 L741.56 478.62 L742.14 478.63 L742.72 478.63 L743.31 478.64 L743.89 478.65 L744.47 478.66 L745.06 478.67 L745.64 478.68 L746.23 478.69 L746.81 478.70 L747.39 478.71 L747.98 478.72 L748.56 478.72 L749.15 478.73 L749.73 478.74 L750.31 478.75 L750.90 478.76 L751.48 478.77 L752.06 478.78 L752.65 478.79 L753.23 478.80 L753.82 478.81 L754.40 478.82 L754.98 478.83 L755.57 478.84 L756.15 478.85 L756.73 478.86 L757.32 478.87 L757.90 478.88 L758.49 478.89 L759.07 478.90 L759.65 478.91 L760.24 478.93 L760.82 478.94 L761.41 478.95 L761.99 478.96 L762.57 478.97 L763.16 478.98 L763.74 478.99 L764.32 479.00 L764.91 479.01 L765.49 479.03 L766.08 479.04 L766.66 479.05 L767.24 479.06 L767.83 479.07 L768.41 479.08 L768.99 479.09 L769.58 479.11 L770.16 479.12 L770.75 479.13 L771.33 479.14 L771.91 479.16 L772.50 479.17 L773.08 479.18 L773.66 479.19 L774.25 479.21 L774.83 479.22 L775.42 479.23 L776.00 479.24" fill="none" stroke="#00ff00" stroke-width="1.0" stroke-dasharray="4.6 2.3"/>
<path d="M150.00 484.85 L150.52 484.82 L151.04 484.72 L151.56 484.55 L152.09 484.32 L152.61 484.02 L153.13 483.65 L153.65 483.22 L154.17 482.73 L154.69 482.17 L155.22 481.55 L155.74 480.86 L156.26 480.12 L156.78 479.31 L157.30 478.44 L157.82 477.52 L158.35 476.53 L158.87 475.49 L159.39 474.40 L159.91 473.25 L160.43 472.05 L160.96 470.79 L161.48 469.49 L162.00 468.15 L162.52 466.75 L163.04 465.31 L163.56 463.84 L164.09 462.32 L164.61 460.76 L165.13 459.17 L165.65 457.54 L166.17 455.89 L166.69 454.20 L167.22 452.49 L167.74 450.75 L168.26 448.99 L168.78 447.21 L169.30 445.41 L169.82 443.60 L170.34 441.77 L170.87 439.93 L171.39 438.08 L171.91 436.23 L172.43 434.37 L172.95 432.51 L173.47 430.65 L174.00 428.79 L174.52 426.94 L175.04 425.09 L175.56 423.25 L176.08 421.42 L176.60 419.60 L177.13 417.80 L177.65 416.01 L178.17 414.24 L178.69 412.49 L179.21 410.76 L179.74 409.05 L180.26 407.37 L180.78 405.71 L181.30 404.07 L181.82 402.47 L182.34 400.89 L182.87 399.34 L183.39 397.82 L183.91 396.33 L184.43 394.87 L184.95 393.44 L185.47 392.05 L186.00 390.69 L186.52 389.36 L187.04 388.07 L187.56 386.80 L188.08 385.58 L188.60 384.38 L189.12 383.22 L189.65 382.10 L190.17 381.01 L190.69 379.95 L191.21 378.92 L191.73 377.93 L192.25 376.97 L192.78 376.04 L193.30 375.14 L193.82 374.27 L194.34 373.43 L194.86 372.63 L195.38 371.85 L195.91 371.10 L196.43 370.38 L196.95 369.68 L197.47 369.02 L197.99 368.37 L198.51 367.76 L199.04 367.16 L199.56 366.59 L200.08 366.05 L200.60 365.52 L201.12 365.02 L201.65 364.53 L202.17 364.07 L202.69 363.62 L203.21 363.20 L203.73 362.79 L204.25 362.40 L204.78 362.02 L205.30 361.66 L205.82 361.32 L206.34 360.98 L206.86 360.67 L207.38 360.36 L207.91 360.07 L208.43 359.79 L208.95 359.52 L209.47 359.26 L209.99 359.01 L210.51 358.77 L211.03 358.54 L211.56 358.32 L212.08 358.10 L212.60 357.90 L213.12 357.70 L213.64 357.51 L214.17 357.32 L214.69 357.14 L215.21 356.97 L215.73 356.80 L216.25 356.63 L216.77 356.47 L217.30 356.32 L217.82 356.17 L218.34 356.02 L218.86 355.88 L219.38 355.74 L219.90 355.60 L220.43 355.47 L220.95 355.34 L221.47 355.21 L221.99 355.08 L222.51 354.95 L223.03 354.83 L223.56 354.71 L224.08 354.59 L224.60 354.47 L225.12 354.35 L225.64 354.23 L226.16 354.12 L226.69 354.00 L227.21 353.88 L227.73 353.77 L228.25 353.65 L228.77 353.54 L229.29 353.42 L229.81 353.31 L230.34 353.19 L230.86 353.07 L231.38 352.96 L231.90 352.84 L232.42 352.72 L232.94 352.60 L233.47 352.48 L233.99 352.36 L234.51 352.23 L235.03 352.11 L235.55 351.99 L236.07 351.86 L236.60 351.73 L237.12 351.60 L237.64 351.47 L238.16 351.33 L238.68 351.20 L239.21 351.06 L239.73 350.92 L240.25 350.78 L240.77 350.64 L241.29 350.49 L241.81 350.34 L242.34 350.19 L242.86 350.04 L243.38 349.88 L243.90 349.73 L244.42 349.56 L244.94 349.40 L245.47 349.24 L245.99 349.07 L246.51 348.90 L247.03 348.72 L247.55 348.55 L248.07 348.37 L248.59 348.18 L249.12 348.00 L249.64 347.81 L250.16 347.62 L250.68 347.42 L251.20 347.23 L251.73 347.03 L252.25 346.82 L252.77 346.62 L253.29 346.41 L253.81 346.19 L254.33 345.98 L254.86 345.76 L255.38 345.54 L255.90 345.31 L256.42 345.08 L256.94 344.85 L257.46 344.62 L257.99 344.38 L258.51 344.14 L259.03 343.90 L259.55 343.65 L260.07 343.40 L260.59 343.15 L261.12 342.89 L261.64 342.64 L262.16 342.37 L262.68 342.11 L263.20 341.84 L263.72 341.57 L264.25 341.30 L264.77 341.03 L265.29 340.75 L265.81 340.47 L266.33 340.19 L266.85 339.90 L267.38 339.61 L267.90 339.32 L268.42 339.03 L268.94 338.74 L269.46 338.44 L269.98 338.14 L270.50 337.84 L271.03 337.53 L271.55 337.23 L272.07 336.92 L272.59 336.61 L273.11 336.30 L273.63 335.98 L274.16 335.67 L274.68 335.35 L275.20 335.03 L275.72 334.71 L276.24 334.39 L276.76 334.06 L277.29 333.74 L277.81 333.41 L278.33 333.08 L278.85 332.75 L279.37 332.42 L279.89 332.09 L280.42 331.75 L280.94 331.42 L281.46 331.09 L281.98 330.75 L282.50 330.41 L283.02 330.07 L283.55 329.74 L284.07 329.40 L284.59 329.06 L285.11 328.72 L285.63 328.37 L286.16 328.03 L286.68 327.69 L287.20 327.35 L287.72 327.01 L288.24 326.66 L288.76 326.32 L289.28 325.98 L289.81 325.63 L290.33 325.29 L290.85 324.95 L291.37 324.60 L291.89 324.26 L292.41 323.92 L292.94 323.57 L293.46 323.23 L293.98 322.89 L294.50 322.55 L295.02 322.21 L295.55 321.86 L296.07 321.52 L296.59 321.18 L297.11 320.84 L297.63 320.50 L298.15 320.17 L298.68 319.83 L299.20 319.49 L299.72 319.15 L300.24 318.82 L300.76 318.48 L301.28 318.15 L301.81 317.82 L302.33 317.48 L302.85 317.15 L303.37 316.82 L303.89 316.49 L304.41 316.16 L304.94 315.83 L305.46 315.51 L305.98 315.18 L306.50 314.86 L307.02 314.53 L307.54 314.21 L308.06 313.89 L308.59 313.57 L309.11 313.25 L309.63 312.93 L310.15 312.62 L310.67 312.30 L311.19 311.99 L311.72 311.67 L312.24 311.36 L312.76 311.05 L313.28 310.74 L313.80 310.43 L314.33 310.13 L314.85 309.82 L315.37 309.52 L315.89 309.21 L316.41 308.91 L316.93 308.61 L317.46 308.31 L317.98 308.01 L318.50 307.72 L319.02 307.42 L319.54 307.13 L320.06 306.83 L320.59 306.54 L321.11 306.25 L321.63 305.96 L322.15 305.68 L322.67 305.39 L323.19 305.11 L323.72 304.82 L324.24 304.54 L324.76 304.26 L325.28 303.98 L325.80 303.70 L326.32 303.42 L326.85 303.15 L327.37 302.87 L327.89 302.60 L328.41 302.33 L328.93 302.06 L329.45 301.79 L329.98 301.52 L330.50 301.25 L331.02 300.98 L331.54 300.72 L332.06 300.46 L332.58 300.19 L333.11 299.93 L333.63 299.67 L334.15 299.41 L334.67 299.15 L335.19 298.90 L335.71 298.64 L336.24 298.39 L336.76 298.13 L337.28 297.88 L337.80 297.63 L338.32 297.38 L338.84 297.13 L339.37 296.88 L339.89 296.63 L340.41 296.38 L340.93 296.14 L341.45 295.89 L341.97 295.65 L342.50 295.41 L343.02 295.16 L343.54 294.92 L344.06 294.68 L344.58 294.44 L345.10 294.21 L345.62 293.97 L346.15 293.73 L346.67 293.50 L347.19 293.26 L347.71 293.03 L348.23 292.79 L348.75 292.56 L349.28 292.33 L349.80 292.10 L350.32 291.87 L350.84 291.64 L351.36 291.41 L351.88 291.18 L352.41 290.95 L352.93 290.73 L353.45 290.50 L353.97 290.27 L354.49 290.05 L355.01 289.83 L355.54 289.60 L356.06 289.38 L356.58 289.16 L357.10 288.93 L357.62 288.71 L358.14 288.49 L358.67 288.27 L359.19 288.05 L359.71 287.83 L360.23 287.62 L360.75 287.40 L361.27 287.18 L361.80 286.96 L362.32 286.75 L362.84 286.53 L363.36 286.31 L363.88 286.10 L364.41 285.88 L364.93 285.67 L365.45 285.46 L365.97 285.24 L366.49 285.03 L367.01 284.82 L367.54 284.61 L368.06 284.39 L368.58 284.18 L369.10 283.97 L369.62 283.76 L370.14 283.55 L370.67 283.34 L371.19 283.13 L371.71 282.92 L372.23 282.71 L372.75 282.50 L373.27 282.29 L373.80 282.09 L374.32 281.88 L374.84 281.67 L375.36 281.46 L375.88 281.26 L376.40 281.05 L376.93 280.84 L377.45 280.64 L377.97 280.43 L378.49 280.23 L379.01 280.02 L379.53 279.82 L380.06 279.61 L380.58 279.41 L381.10 279.20 L381.62 279.00 L382.14 278.79 L382.66 278.59 L383.19 278.39 L383.71 278.18 L384.23 277.98 L384.75 277.78 L385.27 277.58 L385.79 277.37 L386.31 277.17 L386.84 276.97 L387.36 276.77 L387.88 276.57 L388.40 276.37 L388.92 276.17 L389.44 275.96 L389.97 275.76 L390.49 275.56 L391.01 275.36 L391.53 275.16 L392.05 274.96 L392.58 274.76 L393.10 274.56 L393.62 274.37 L394.14 274.17 L394.66 273.97 L395.18 273.77 L395.71 273.57 L396.23 273.37 L396.75 273.17 L397.27 272.98 L397.79 272.78 L398.31 272.58 L398.84 272.38 L399.36 272.19 L399.88 271.99 L400.40 271.79 L400.92 271.60 L401.44 271.40 L401.97 271.21 L402.49 271.01 L403.01 270.82 L403.53 270.62 L404.05 270.42 L404.57 270.23 L405.10 270.04 L405.62 269.84 L406.14 269.65 L406.66 269.45 L407.18 269.26 L407.70 269.07 L408.23 268.87 L408.75 268.68 L409.27 268.49 L409.79 268.29 L410.31 268.10 L410.83 267.91 L411.36 267.72 L411.88 267.53 L412.40 267.34 L412.92 267.15 L413.44 266.95 L413.96 266.76 L414.49 266.57 L415.01 266.38 L415.53 266.19 L416.05 266.00 L416.57 265.82 L417.09 265.63 L417.62 265.44 L418.14 265.25 L418.66 265.06 L419.18 264.87 L419.70 264.69 L420.22 264.50 L420.75 264.31 L421.27 264.13 L421.79 263.94 L422.31 263.75 L422.83 263.57 L423.35 263.38 L423.88 263.20 L424.40 263.01 L424.92 262.83 L425.44 262.64 L425.96 262.46 L426.48 262.28 L427.00 262.09 L427.53 261.91 L428.05 261.73 L428.57 261.55 L429.09 261.36 L429.61 261.18 L430.13 261.00 L430.66 260.82 L431.18 260.64 L431.70 260.46 L432.22 260.28 L432.74 260.10 L433.26 259.92 L433.79 259.74 L434.31 259.56 L434.83 259.39 L435.35 259.21 L435.87 259.03 L436.40 258.85 L436.92 258.68 L437.44 258.50 L437.96 258.32 L438.48 258.15 L439.00 257.97 L439.53 257.80 L440.05 257.62 L440.57 257.45 L441.09 257.27 L441.61 257.10 L442.13 256.93 L442.66 256.75 L443.18 256.58 L443.70 256.41 L444.22 256.24 L444.74 256.07 L445.26 255.89 L445.79 255.72 L446.31 255.55 L446.83 255.38 L447.35 255.21 L447.87 255.04 L448.39 254.87 L448.92 254.70 L449.44 254.54 L449.96 254.37 L450.48 254.20 L451.00 254.03 L451.52 253.87 L452.05 253.70 L452.57 253.53 L453.09 253.37 L453.61 253.20 L454.13 253.04 L454.65 252.87 L455.18 252.71 L455.70 252.54 L456.22 252.38 L456.74 252.21 L457.26 252.05 L457.78 251.89 L458.31 251.73 L458.83 251.56 L459.35 251.40 L459.87 251.24 L460.39 251.08 L460.91 250.92 L461.44 250.76 L461.96 250.60 L462.48 250.44 L463.00 250.28 L463.52 250.12 L464.04 249.96 L464.57 249.80 L465.09 249.64 L465.61 249.48 L466.13 249.33 L466.65 249.17 L467.17 249.01 L467.70 248.85 L468.22 248.70 L468.74 248.54 L469.26 248.38 L469.78 248.23 L470.30 248.07 L470.83 247.92 L471.35 247.76 L471.87 247.61 L472.39 247.46 L472.91 247.30 L473.43 247.15 L473.96 246.99 L474.48 246.84 L475.00 246.69 L475.52 246.54 L476.04 246.38 L476.56 246.23 L477.09 246.08 L477.61 245.93 L478.13 245.78 L478.65 245.63 L479.17 245.48 L479.69 245.33 L480.22 245.18 L480.74 245.03 L481.26 244.88 L481.78 244.73 L482.30 244.58 L482.82 244.43 L483.35 244.28 L483.87 244.13 L484.39 243.98 L484.91 243.84 L485.43 243.69 L485.95 243.54 L486.48 243.39 L487.00 243.25 L487.52 243.10 L488.04 242.95 L488.56 242.81 L489.08 242.66 L489.60 242.52 L490.13 242.37 L490.65 242.22 L491.17 242.08 L491.69 241.93 L492.21 241.79 L492.74 241.64 L493.26 241.50 L493.78 241.36 L494.30 241.21 L494.82 241.07 L495.34 240.92 L495.87 240.78 L496.39 240.64 L496.91 240.50 L497.43 240.35 L497.95 240.21 L498.47 240.07 L499.00 239.93 L499.52 239.78 L500.04 239.64 L500.56 239.50 L501.08 239.36 L501.60 239.22 L502.12 239.08 L502.65 238.94 L503.17 238.79 L503.69 238.65 L504.21 238.51 L504.73 238.37 L505.25 238.23 L505.78 238.09 L506.30 237.95 L506.82 237.81 L507.34 237.68 L507.86 237.54 L508.38 237.40 L508.91 237.26 L509.43 237.12 L509.95 236.98 L510.47 236.84 L510.99 236.70 L511.51 236.57 L512.04 236.43 L512.56 236.29 L513.08 236.15 L513.60 236.02 L514.12 235.88 L514.64 235.74 L515.17 235.60 L515.69 235.47 L516.21 235.33 L516.73 235.19 L517.25 235.06 L517.78 234.92 L518.30 234.79 L518.82 234.65 L519.34 234.51 L519.86 234.38 L520.38 234.24 L520.90 234.11 L521.43 233.97 L521.95 233.84 L522.47 233.70 L522.99 233.57 L523.51 233.43 L524.04 233.30 L524.56 233.17 L525.08 233.03 L525.60 232.90 L526.12 232.76 L526.64 232.63 L527.16 232.50 L527.69 232.36 L528.21 232.23 L528.73 232.10 L529.25 231.96 L529.77 231.83 L530.30 231.70 L530.82 231.57 L531.34 231.43 L531.86 231.30 L532.38 231.17 L532.90 231.04 L533.42 230.91 L533.95 230.78 L534.47 230.64 L534.99 230.51 L535.51 230.38 L536.03 230.25 L536.56 230.12 L537.08 229.99 L537.60 229.86 L538.12 229.73 L538.64 229.60 L539.16 229.47 L539.69 229.34 L540.21 229.21 L540.73 229.08 L541.25 228.95 L541.77 228.82 L542.29 228.69 L542.82 228.56 L543.34 228.43 L543.86 228.31 L544.38 228.18 L544.90 228.05 L545.42 227.92 L545.95 227.79 L546.47 227.66 L546.99 227.54 L547.51 227.41 L548.03 227.28 L548.55 227.15 L549.08 227.03 L549.60 226.90 L550.12 226.77 L550.64 226.65 L551.16 226.52 L551.68 226.39 L552.21 226.27 L552.73 226.14 L553.25 226.02 L553.77 225.89 L554.29 225.76 L554.81 225.64 L555.34 225.51 L555.86 225.39 L556.38 225.26 L556.90 225.14 L557.42 225.01 L557.94 224.89 L558.47 224.77 L558.99 224.64 L559.51 224.52 L560.03 224.39 L560.55 224.27 L561.07 224.15 L561.60 224.02 L562.12 223.90 L562.64 223.78 L563.16 223.65 L563.68 223.53 L564.20 223.41 L564.73 223.29 L565.25 223.16 L565.77 223.04 L566.29 222.92 L566.81 222.80 L567.33 222.68 L567.86 222.56 L568.38 222.44 L568.90 222.31 L569.42 222.19 L569.94 222.07 L570.46 221.95 L570.99 221.83 L571.51 221.71 L572.03 221.59 L572.55 221.47 L573.07 221.35 L573.59 221.23 L574.12 221.11 L574.64 220.99 L575.16 220.87 L575.68 220.76 L576.20 220.64 L576.72 220.52 L577.25 220.40 L577.77 220.28 L578.29 220.16 L578.81 220.04 L579.33 219.93 L579.85 219.81 L580.38 219.69 L580.90 219.57 L581.42 219.46 L581.94 219.34 L582.46 219.22 L582.98 219.11 L583.50 218.99 L584.03 218.87 L584.55 218.76 L585.07 218.64 L585.59 218.53 L586.11 218.41 L586.63 218.29 L587.16 218.18 L587.68 218.06 L588.20 217.95 L588.72 217.83 L589.24 217.72 L589.76 217.60 L590.29 217.49 L590.81 217.37 L591.33 217.26 L591.85 217.15 L592.37 217.03 L592.89 216.92 L593.42 216.80 L593.94 216.69 L594.46 216.58 L594.98 216.46 L595.50 216.35 L596.03 216.24 L596.55 216.13 L597.07 216.01 L597.59 215.90 L598.11 215.79 L598.63 215.68 L599.15 215.56 L599.68 215.45 L600.20 215.34 L600.72 215.23 L601.24 215.12 L601.76 215.01 L602.29 214.89 L602.81 214.78 L603.33 214.67 L603.85 214.56 L604.37 214.45 L604.89 214.34 L605.41 214.23 L605.94 214.12 L606.46 214.01 L606.98 213.90 L607.50 213.79 L608.02 213.68 L608.55 213.57 L609.07 213.46 L609.59 213.35 L610.11 213.24 L610.63 213.13 L611.15 213.02 L611.67 212.91 L612.20 212.81 L612.72 212.70 L613.24 212.59 L613.76 212.48 L614.28 212.37 L614.81 212.26 L615.33 212.16 L615.85 212.05 L616.37 211.94 L616.89 211.83 L617.41 211.72 L617.94 211.62 L618.46 211.51 L618.98 211.40 L619.50 211.30 L620.02 211.19 L620.54 211.08 L621.07 210.97 L621.59 210.87 L622.11 210.76 L622.63 210.66 L623.15 210.55 L623.67 210.44 L624.20 210.34 L624.72 210.23 L625.24 210.12 L625.76 210.02 L626.28 209.91 L626.80 209.81 L627.33 209.70 L627.85 209.60 L628.37 209.49 L628.89 209.39 L629.41 209.28 L629.93 209.18 L630.46 209.07 L630.98 208.97 L631.50 208.86 L632.02 208.76 L632.54 208.65 L633.06 208.55 L633.59 208.45 L634.11 208.34 L634.63 208.24 L635.15 208.13 L635.67 208.03 L636.19 207.93 L636.72 207.82 L637.24 207.72 L637.76 207.62 L638.28 207.51 L638.80 207.41 L639.32 207.31 L639.85 207.20 L640.37 207.10 L640.89 207.00 L641.41 206.90 L641.93 206.79 L642.45 206.69 L642.98 206.59 L643.50 206.49 L644.02 206.38 L644.54 206.28 L645.06 206.18 L645.58 206.08 L646.11 205.98 L646.63 205.87 L647.15 205.77 L647.67 205.67 L648.19 205.57 L648.71 205.47 L649.24 205.37 L649.76 205.27 L650.28 205.16 L650.80 205.06 L651.32 204.96 L651.84 204.86 L652.37 204.76 L652.89 204.66 L653.41 204.56 L653.93 204.46 L654.45 204.36 L654.97 204.26 L655.50 204.16 L656.02 204.06 L656.54 203.96 L657.06 203.86 L657.58 203.76 L658.10 203.66 L658.62 203.56 L659.15 203.46 L659.67 203.36 L660.19 203.26 L660.71 203.16 L661.23 203.06 L661.75 202.97 L662.28 202.87 L662.80 202.77 L663.32 202.67 L663.84 202.57 L664.36 202.47 L664.88 202.37 L665.41 202.27 L665.93 202.18 L666.45 202.08 L666.97 201.98 L667.49 201.88 L668.01 201.78 L668.54 201.69 L669.06 201.59 L669.58 201.49 L670.10 201.39 L670.62 201.30 L671.14 201.20 L671.67 201.10 L672.19 201.00 L672.71 200.91 L673.23 200.81 L673.75 200.71 L674.27 200.62 L674.80 200.52 L675.32 200.42 L675.84 200.33 L676.36 200.23 L676.88 200.13 L677.40 200.04 L677.93 199.94 L678.45 199.85 L678.97 199.75 L679.49 199.65 L680.01 199.56 L680.53 199.46 L681.06 199.37 L681.58 199.27 L682.10 199.18 L682.62 199.08 L683.14 198.99 L683.67 198.89 L684.19 198.80 L684.71 198.70 L685.23 198.61 L685.75 198.51 L686.27 198.42 L686.80 198.32 L687.32 198.23 L687.84 198.13 L688.36 198.04 L688.88 197.94 L689.40 197.85 L689.93 197.76 L690.45 197.66 L690.97 197.57 L691.49 197.48 L692.01 197.38 L692.53 197.29 L693.06 197.19 L693.58 197.10 L694.10 197.01 L694.62 196.92 L695.14 196.82 L695.66 196.73 L696.19 196.64 L696.71 196.54 L697.23 196.45 L697.75 196.36 L698.27 196.27 L698.79 196.17 L699.32 196.08 L699.84 195.99 L700.36 195.90 L700.88 195.80 L701.40 195.71 L701.92 195.62 L702.45 195.53 L702.97 195.44 L703.49 195.35 L704.01 195.25 L704.53 195.16 L705.05 195.07 L705.58 194.98 L706.10 194.89 L706.62 194.80 L707.14 194.71 L707.66 194.62 L708.18 194.53 L708.71 194.44 L709.23 194.34 L709.75 194.25 L710.27 194.16 L710.79 194.07 L711.31 193.98 L711.84 193.89 L712.36 193.80 L712.88 193.71 L713.40 193.62 L713.92 193.53 L714.44 193.44 L714.97 193.35 L715.49 193.26 L716.01 193.18 L716.53 193.09 L717.05 193.00 L717.57 192.91 L718.10 192.82 L718.62 192.73 L719.14 192.64 L719.66 192.55 L720.18 192.46 L720.70 192.37 L721.23 192.29 L721.75 192.20 L722.27 192.11 L722.79 192.02 L723.31 191.93 L723.83 191.84 L724.36 191.76 L724.88 191.67 L725.40 191.58 L725.92 191.49 L726.44 191.41 L726.96 191.32 L727.49 191.23 L728.01 191.14 L728.53 191.06 L729.05 190.97 L729.57 190.88 L730.09 190.79 L730.62 190.71 L731.14 190.62 L731.66 190.53 L732.18 190.45 L732.70 190.36 L733.22 190.27 L733.75 190.19 L734.27 190.10 L734.79 190.01 L735.31 189.93 L735.83 189.84 L736.35 189.76 L736.88 189.67 L737.40 189.58 L737.92 189.50 L738.44 189.41 L738.96 189.33 L739.48 189.24 L740.01 189.15 L740.53 189.07 L741.05 188.98 L741.57 188.90 L742.09 188.81 L742.61 188.73 L743.13 188.64 L743.66 188.56 L744.18 188.47 L744.70 188.39 L745.22 188.30 L745.74 188.22 L746.26 188.13 L746.79 188.05 L747.31 187.96 L747.83 187.88 L748.35 187.79 L748.87 187.71 L749.39 187.63 L749.92 187.54 L750.44 187.46 L750.96 187.37 L751.48 187.29 L752.00 187.21 L752.52 187.12 L753.05 187.04 L753.57 186.95 L754.09 186.87 L754.61 186.79 L755.13 186.70 L755.65 186.62 L756.18 186.54 L756.70 186.45 L757.22 186.37 L757.74 186.29 L758.26 186.20 L758.78 186.12 L759.31 186.04 L759.83 185.95 L760.35 185.87 L760.87 185.79 L761.39 185.71 L761.92 185.62 L762.44 185.54 L762.96 185.46 L763.48 185.38 L764.00 185.29 L764.52 185.21 L765.05 185.13 L765.57 185.05 L766.09 184.96 L766.61 184.88 L767.13 184.80 L767.65 184.72 L768.18 184.64 L768.70 184.56 L769.22 184.47 L769.74 184.39 L770.26 184.31 L770.78 184.23 L771.31 184.15 L771.83 184.07 L772.35 183.98 L772.87 183.90 L773.39 183.82 L773.91 183.74 L774.44 183.66 L774.96 183.58 L775.48 183.50 L776.00 183.42" fill="none" stroke="#0000ff" stroke-width="1.15" stroke-dasharray="2.3 3.39"/>
<path d="M156.52 467.75H167.52M162.02 462.25V473.25M169.04 426.34H180.04M174.54 420.84V431.84M181.56 387.75H192.56M187.06 382.25V393.25M194.08 366.71H205.08M199.58 361.21V372.21M206.60 358.50H217.60M212.10 353.00V364.00M219.12 354.80H230.12M224.62 349.30V360.30M231.64 351.92H242.64M237.14 346.42V357.42M244.16 348.07H255.16M249.66 342.57V353.57M256.68 342.56H267.68M262.18 337.06V348.06M269.20 335.48H280.20M274.70 329.98V340.98M281.72 327.46H292.72M287.22 321.96V332.96M294.24 319.27H305.24M299.74 313.77V324.77M306.76 311.50H317.76M312.26 306.00V317.00M319.28 304.43H330.28M324.78 298.93V309.93M331.80 298.08H342.80M337.30 292.58V303.58M344.32 292.30H355.32M349.82 286.80V297.80M356.84 286.95H367.84M362.34 281.45V292.45M369.36 281.87H380.36M374.86 276.37V287.37M381.88 276.96H392.88M387.38 271.46V282.46M394.40 272.17H405.40M399.90 266.67V277.67M406.92 267.51H417.92M412.42 262.01V273.01M419.44 262.99H430.44M424.94 257.49V268.49M431.96 258.65H442.96M437.46 253.15V264.15M444.48 254.52H455.48M449.98 249.02V260.02M457.00 250.58H468.00M462.50 245.08V256.08M469.52 246.83H480.52M475.02 241.33V252.33M482.04 243.24H493.04M487.54 237.74V248.74M494.56 239.78H505.56M500.06 234.28V245.28M507.08 236.43H518.08M512.58 230.93V241.93M519.60 233.17H530.60M525.10 227.67V238.67M532.14 229.99H543.14M537.64 224.49V235.49M544.68 226.90H555.68M550.18 221.40V232.40M557.22 223.90H568.22M562.72 218.40V229.40M569.75 221.00H580.75M575.25 215.50V226.50M582.29 218.19H593.29M587.79 212.69V223.69M594.83 215.46H605.83M600.33 209.96V220.96M607.37 212.81H618.37M612.87 207.31V218.31M619.91 210.24H630.91M625.41 204.74V215.74M632.45 207.73H643.45M637.95 202.23V213.23M644.98 205.27H655.98M650.48 199.77V210.77M657.52 202.87H668.52M663.02 197.37V208.37M670.06 200.52H681.06M675.56 195.02V206.02M682.60 198.23H693.60M688.10 192.73V203.73M695.14 195.99H706.14M700.64 190.49V201.49M707.68 193.80H718.68M713.18 188.30V199.30M720.21 191.66H731.21M725.71 186.16V197.16M732.75 189.57H743.75M738.25 184.07V195.07M745.29 187.53H756.29M750.79 182.03V193.03M757.83 185.53H768.83M763.33 180.03V191.03" fill="none" stroke="#ff00ff" stroke-width="1.0"/>
<rect x="150.00" y="32.70" width="626.00" height="452.15" fill="none" stroke="#000" stroke-width="1.6"/>
<text x="133.9" y="494.15" text-anchor="end">0</text>
<text x="133.9" y="433.86" text-anchor="end">0.2</text>
<text x="133.9" y="373.58" text-anchor="end">0.4</text>
<text x="133.9" y="313.29" text-anchor="end">0.6</text>
<text x="133.9" y="253.00" text-anchor="end">0.8</text>
<text x="133.9" y="192.72" text-anchor="end">1</text>
<text x="133.9" y="132.43" text-anchor="end">1.2</text>
<text x="133.9" y="72.14" text-anchor="end">1.4</text>
<text x="153.20" y="520.8" text-anchor="middle">0</text>
<text x="278.40" y="520.8" text-anchor="middle">0.2</text>
<text x="403.60" y="520.8" text-anchor="middle">0.4</text>
<text x="528.80" y="520.8" text-anchor="middle">0.6</text>
<text x="654.00" y="520.8" text-anchor="middle">0.8</text>
<text x="779.20" y="520.8" text-anchor="middle">1</text>
<text x="463" y="561.7" text-anchor="middle">x</text>
<text transform="translate(47.3,259.2) rotate(-90)" text-anchor="middle">Normalized quantities</text>
<rect x="572.8" y="40" width="187" height="108.2" fill="#fff" stroke="#000" stroke-width="1.6"/>
<text x="654.60" y="62.40" text-anchor="end">V(x)</text>
<text x="654.60" y="89.60" text-anchor="end">(x)</text>
<path fill="#000" fill-rule="evenodd" d="M607.20 83.85A6.95 7.15 0 1 0 621.10 83.85A6.95 7.15 0 1 0 607.20 83.85Z M609.90 84.05A4.15 5.80 0 1 0 618.20 84.05A4.15 5.80 0 1 0 609.90 84.05Z"/>
<path fill="#000" d="M613.15 76.45H621.6L622.3 78.65H616.65Z"/>
<text x="654.60" y="114.90" text-anchor="end">H<tspan font-size="21.76px" dy="7.6">1</tspan><tspan dy="-7.6"> (x)</tspan></text>
<text x="654.60" y="141.90" text-anchor="end">H<tspan font-size="21.76px" dy="7.6">2</tspan><tspan dy="-7.6"> (x)</tspan></text>
<path d="M670.90 53.40H743.60" stroke="#ff0000" stroke-width="1.9" fill="none"/>
<path d="M670.90 80.60H743.60" stroke="#00ff00" stroke-width="1.0" stroke-dasharray="4.6 2.3" fill="none"/>
<path d="M670.90 108.00H743.60" stroke="#0000ff" stroke-width="1.15" stroke-dasharray="2.3 3.39" fill="none"/>
<path d="M701.80 135.30H712.80 M707.30 129.80V140.80" stroke="#ff00ff" stroke-width="1.0" fill="none"/>
</svg>
</body></html>
